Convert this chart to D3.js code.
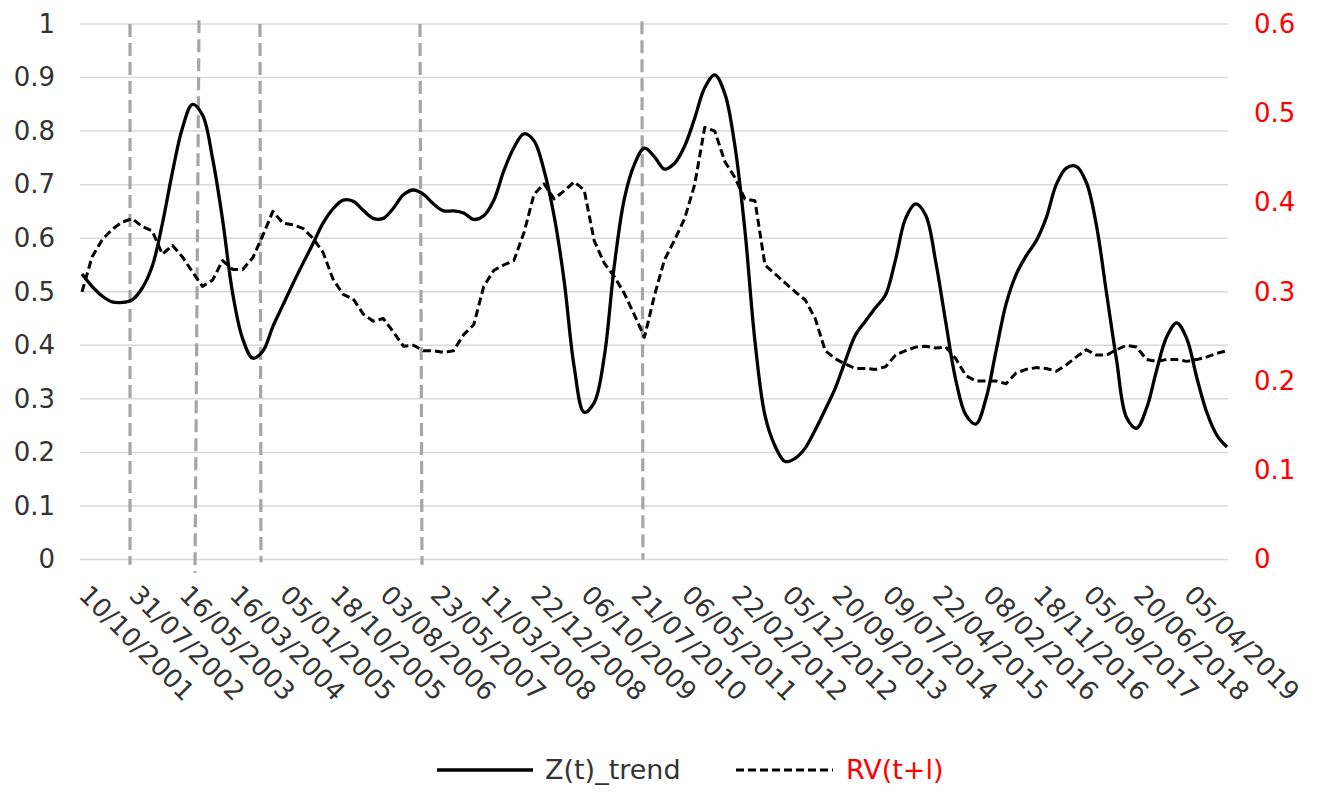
<!DOCTYPE html>
<html>
<head>
<meta charset="utf-8">
<script src="https://cdn.jsdelivr.net/npm/d3@7"></script>
<style>
  html, body { margin: 0; padding: 0; background: #ffffff; }
  text { font-family: "DejaVu Sans", Verdana, sans-serif; }
</style>
</head>
<body>
<svg id="chart" width="1317" height="792"></svg>
<script>
// Category labels shown on the x axis (one every `labelEvery` samples)
const dateLabels = [
  "10/10/2001", "31/07/2002", "16/05/2003", "16/03/2004", "05/01/2005",
  "18/10/2005", "03/08/2006", "23/05/2007", "11/03/2008", "22/12/2008",
  "06/10/2009", "21/07/2010", "06/05/2011", "22/02/2012", "05/12/2012",
  "20/09/2013", "09/07/2014", "22/04/2015", "08/02/2016", "18/11/2016",
  "05/09/2017", "20/06/2018", "05/04/2019"
];
const labelEvery = 5;

// Z(t)_trend, left axis
const zTrend = [
  0.533, 0.510, 0.492, 0.481, 0.480, 0.485, 0.507, 0.548, 0.627, 0.723,
  0.806, 0.850, 0.830, 0.749, 0.634, 0.497, 0.412, 0.376, 0.389, 0.435,
  0.475, 0.515, 0.553, 0.590, 0.628, 0.655, 0.671, 0.669, 0.652, 0.637,
  0.637, 0.656, 0.681, 0.690, 0.682, 0.664, 0.651, 0.651, 0.647, 0.635,
  0.642, 0.671, 0.726, 0.769, 0.795, 0.782, 0.727, 0.642, 0.521, 0.360,
  0.275, 0.293, 0.379, 0.549, 0.674, 0.738, 0.768, 0.752, 0.729, 0.740,
  0.772, 0.824, 0.881, 0.905, 0.870, 0.773, 0.615, 0.408, 0.269, 0.212,
  0.183, 0.189, 0.208, 0.242, 0.280, 0.320, 0.371, 0.419, 0.445, 0.470,
  0.494, 0.560, 0.637, 0.664, 0.643, 0.556, 0.443, 0.335, 0.270, 0.253,
  0.300, 0.389, 0.477, 0.532, 0.567, 0.595, 0.638, 0.700, 0.731, 0.734,
  0.704, 0.624, 0.498, 0.373, 0.265, 0.245, 0.283, 0.354, 0.416, 0.442,
  0.412, 0.339, 0.274, 0.232, 0.210
];

// RV(t+l), right axis
const rvLead = [
  0.300, 0.339, 0.358, 0.370, 0.378, 0.382, 0.373, 0.368, 0.342, 0.352,
  0.339, 0.322, 0.306, 0.313, 0.335, 0.325, 0.325, 0.338, 0.363, 0.390,
  0.377, 0.375, 0.371, 0.360, 0.344, 0.314, 0.297, 0.292, 0.275, 0.267,
  0.270, 0.255, 0.239, 0.240, 0.234, 0.234, 0.232, 0.234, 0.252, 0.263,
  0.306, 0.324, 0.330, 0.335, 0.366, 0.409, 0.421, 0.404, 0.413, 0.423,
  0.414, 0.357, 0.332, 0.317, 0.298, 0.274, 0.249, 0.296, 0.336, 0.358,
  0.382, 0.420, 0.484, 0.480, 0.446, 0.428, 0.404, 0.402, 0.330, 0.320,
  0.310, 0.300, 0.291, 0.270, 0.234, 0.225, 0.219, 0.214, 0.214, 0.213,
  0.216, 0.229, 0.234, 0.238, 0.239, 0.237, 0.238, 0.225, 0.206, 0.200,
  0.200, 0.200, 0.197, 0.209, 0.213, 0.215, 0.214, 0.211, 0.218, 0.227,
  0.235, 0.229, 0.229, 0.235, 0.240, 0.238, 0.224, 0.222, 0.224, 0.224,
  0.222, 0.224, 0.227, 0.231, 0.234
];

// Axis ticks
const leftTicks = [0, 0.1, 0.2, 0.3, 0.4, 0.5, 0.6, 0.7, 0.8, 0.9, 1];
const rightTicks = [0, 0.1, 0.2, 0.3, 0.4, 0.5, 0.6];

// Event markers: category position at top and bottom, vertical extent on the left scale
const eventMarks = [
  { top: 4.78,  bottom: 4.78,  y1: 1.0,   y0: -0.010 },
  { top: 11.65, bottom: 11.25, y1: 1.007, y0: -0.025 },
  { top: 17.72, bottom: 17.82, y1: 1.0,   y0: -0.005 },
  { top: 33.65, bottom: 33.85, y1: 1.0,   y0: -0.010 },
  { top: 55.75, bottom: 55.85, y1: 1.005, y0: 0.0 }
];

const svg = d3.select("#chart");
const plot = { left: 80, right: 1228, top: 24, bottom: 559.5 };
const textColor = "#333333";

const x = d3.scaleLinear().domain([0, zTrend.length - 1]).range([82, 1227]);
const yL = d3.scaleLinear().domain([0, 1]).range([plot.bottom, plot.top]);
const yR = d3.scaleLinear().domain([0, 0.6]).range([plot.bottom, plot.top]);

// Horizontal gridlines
svg.append("g")
  .selectAll("line")
  .data(leftTicks)
  .join("line")
  .attr("x1", plot.left).attr("x2", plot.right)
  .attr("y1", d => yL(d)).attr("y2", d => yL(d))
  .attr("stroke", "#d9d9d9").attr("stroke-width", 1.5);

// Left axis labels
const leftAxis = d3.axisLeft(yL).tickValues(leftTicks).tickSize(0).tickPadding(0)
  .tickFormat(d => d3.format("~g")(+d.toFixed(1)));
svg.append("g")
  .attr("transform", `translate(55,0)`)
  .call(leftAxis)
  .call(g => g.select(".domain").remove())
  .selectAll("text")
  .attr("fill", textColor)
  .style("font-size", "26px")
  .style("font-family", "'DejaVu Sans', Verdana, sans-serif");

// Right axis labels
const rightAxis = d3.axisRight(yR).tickValues(rightTicks).tickSize(0).tickPadding(0)
  .tickFormat(d => d3.format("~g")(+d.toFixed(1)));
svg.append("g")
  .attr("transform", `translate(1254,0)`)
  .call(rightAxis)
  .call(g => g.select(".domain").remove())
  .selectAll("text")
  .attr("fill", "#ff0000")
  .style("font-size", "26px")
  .style("font-family", "'DejaVu Sans', Verdana, sans-serif");

// Event markers
svg.append("g")
  .selectAll("line")
  .data(eventMarks)
  .join("line")
  .attr("x1", d => x(d.top)).attr("x2", d => x(d.bottom))
  .attr("y1", d => yL(d.y1)).attr("y2", d => yL(d.y0))
  .attr("stroke", "#a6a6a6").attr("stroke-width", 3.2)
  .attr("stroke-dasharray", "13,6");

// RV(t+l) dashed series
svg.append("path")
  .datum(rvLead)
  .attr("fill", "none")
  .attr("stroke", "#000")
  .attr("stroke-width", 3)
  .attr("stroke-dasharray", "8,4")
  .attr("stroke-linejoin", "round")
  .attr("d", d3.line().x((d, i) => x(i)).y(d => yR(d)));

// Z(t)_trend solid series
svg.append("path")
  .datum(zTrend)
  .attr("fill", "none")
  .attr("stroke", "#000")
  .attr("stroke-width", 3.3)
  .attr("stroke-linejoin", "round")
  .attr("d", d3.line().x((d, i) => x(i)).y(d => yL(d)).curve(d3.curveCatmullRom.alpha(0.5)));

// Rotated category labels
svg.append("g")
  .selectAll("text")
  .data(dateLabels)
  .join("text")
  .attr("transform", (d, k) => `translate(${x(k * labelEvery) + 2},${590}) rotate(45)`)
  .attr("dy", "0.35em")
  .attr("text-anchor", "start")
  .attr("fill", textColor)
  .style("font-size", "26px")
  .text(d => d);

// Legend
const legend = svg.append("g");
legend.append("line")
  .attr("x1", 437).attr("x2", 533).attr("y1", 770).attr("y2", 770)
  .attr("stroke", "#000").attr("stroke-width", 3.3);
legend.append("text")
  .attr("x", 545).attr("y", 770).attr("dy", "0.35em")
  .attr("fill", textColor).style("font-size", "27px")
  .text("Z(t)_trend");
legend.append("line")
  .attr("x1", 736).attr("x2", 833).attr("y1", 770).attr("y2", 770)
  .attr("stroke", "#000").attr("stroke-width", 3)
  .attr("stroke-dasharray", "8,4");
legend.append("text")
  .attr("x", 846).attr("y", 770).attr("dy", "0.35em")
  .attr("fill", "#ff0000").style("font-size", "27px")
  .text("RV(t+l)");
</script>
</body>
</html>
